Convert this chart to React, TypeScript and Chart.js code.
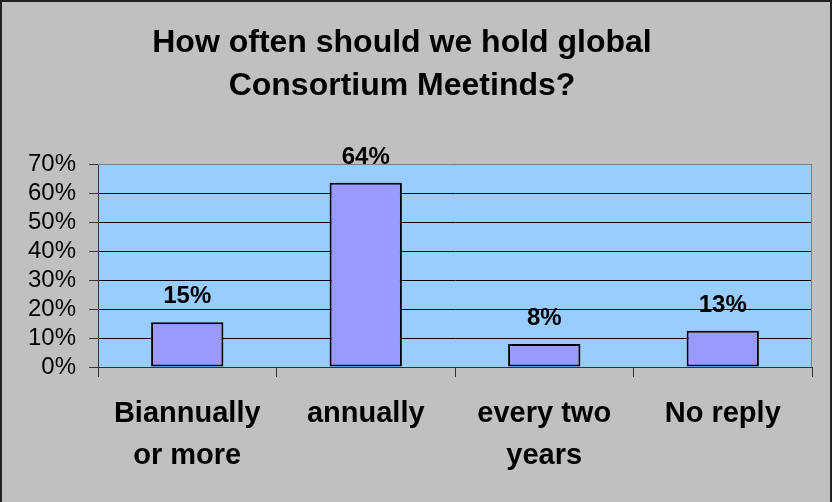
import React, { useEffect, useRef } from "react";
import { Chart, registerables } from "chart.js";

Chart.register(...registerables);

const categories: string[][] = [["Biannually", "or more"], ["annually"], ["every two", "years"], ["No reply"]];
const values: number[] = [15.4, 63.5, 7.9, 12.5];
const titleLines: string[] = ["How often should we hold global", "Consortium Meetinds?"];
const yTicks: number[] = [0, 10, 20, 30, 40, 50, 60, 70];

const FONT = "'Liberation Sans', Arial, Helvetica, sans-serif";

const backgroundPlugin = {
  id: "bgPlugin",
  beforeDraw(chart: any) {
    const { ctx, width, height, chartArea } = chart;
    ctx.save();
    ctx.fillStyle = "#C0C0C0";
    ctx.fillRect(0, 0, width, height);
    ctx.strokeStyle = "#222";
    ctx.lineWidth = 2;
    ctx.strokeRect(1, 1, width - 2, height + 4);
    ctx.fillStyle = "#99CCFF";
    ctx.fillRect(chartArea.left, chartArea.top, chartArea.right - chartArea.left, chartArea.bottom - chartArea.top);
    ctx.restore();
  },
  beforeDatasetsDraw(chart: any) {
    const { ctx, chartArea } = chart;
    ctx.save();
    ctx.strokeStyle = "#808080";
    ctx.lineWidth = 1;
    ctx.beginPath();
    ctx.moveTo(chartArea.left, chartArea.top + 0.5);
    ctx.lineTo(chartArea.right - 0.5, chartArea.top + 0.5);
    ctx.lineTo(chartArea.right - 0.5, chartArea.bottom);
    ctx.stroke();
    ctx.restore();
  },
};

const labelPlugin = {
  id: "labelPlugin",
  afterDatasetsDraw(chart: any) {
    const { ctx } = chart;
    const meta = chart.getDatasetMeta(0);
    ctx.save();
    ctx.fillStyle = "#000";
    ctx.font = `bold 24px ${FONT}`;
    ctx.textAlign = "center";
    ctx.textBaseline = "alphabetic";
    meta.data.forEach((bar: any, i: number) => {
      ctx.fillText(Math.round(values[i]) + "%", bar.x, bar.y - 19);
    });
    ctx.restore();
  },
  afterDraw(chart: any) {
    const { ctx } = chart;
    ctx.save();
    ctx.fillStyle = "#000";
    ctx.font = `bold 32px ${FONT}`;
    ctx.textAlign = "center";
    ctx.textBaseline = "alphabetic";
    titleLines.forEach((t, i) => {
      ctx.fillText(t, 402, 52 + i * 43);
    });
    ctx.restore();
  },
};

export default function App() {
  const ref = useRef<HTMLCanvasElement | null>(null);
  useEffect(() => {
    if (!ref.current) return;
    const chart = new Chart(ref.current, {
      type: "bar",
      data: {
        labels: categories,
        datasets: [
          {
            data: values,
            backgroundColor: "#9999FF",
            borderColor: "#000",
            borderWidth: 2,
            borderSkipped: false,
            barPercentage: 0.405,
            categoryPercentage: 1,
          },
        ],
      },
      options: {
        animation: false,
        responsive: false,
        layout: { padding: { left: 0, top: 164, right: 20, bottom: 0 } },
        plugins: {
          legend: { display: false },
          title: { display: false },
          tooltip: { enabled: false },
        },
        scales: {
          x: {
            afterFit(scale: any) {
              scale.height = 135;
            },
            grid: {
              drawOnChartArea: false,
              drawTicks: true,
              tickLength: 10,
              tickColor: "#333",
              offset: true,
            },
            border: { display: true, color: "#333", width: 1 },
            ticks: {
              color: "#000",
              font: { family: FONT, size: 29, weight: "bold", lineHeight: 1.45 },
              padding: 16,
              maxRotation: 0,
              autoSkip: false,
            },
          },
          y: {
            min: 0,
            max: 70,
            afterFit(scale: any) {
              scale.width = 98;
            },
            afterBuildTicks(scale: any) {
              scale.ticks = yTicks.map((v) => ({ value: v }));
            },
            grid: {
              color: "#000",
              lineWidth: 1,
              drawTicks: true,
              tickLength: 9,
              tickColor: "#333",
            },
            border: { display: true, color: "#333", width: 1 },
            ticks: {
              color: "#000",
              font: { family: FONT, size: 24, lineHeight: 1 },
              padding: 13,
              autoSkip: false,
              callback: (v: any) => v + "%",
            },
          },
        },
      },
      plugins: [backgroundPlugin, labelPlugin],
    });
    return () => chart.destroy();
  }, []);
  return (
    <div style={{ position: "fixed", left: 0, top: 0, width: 832, height: 502 }}>
      <canvas ref={ref} width={832} height={502} style={{ display: "block" }} />
    </div>
  );
}
